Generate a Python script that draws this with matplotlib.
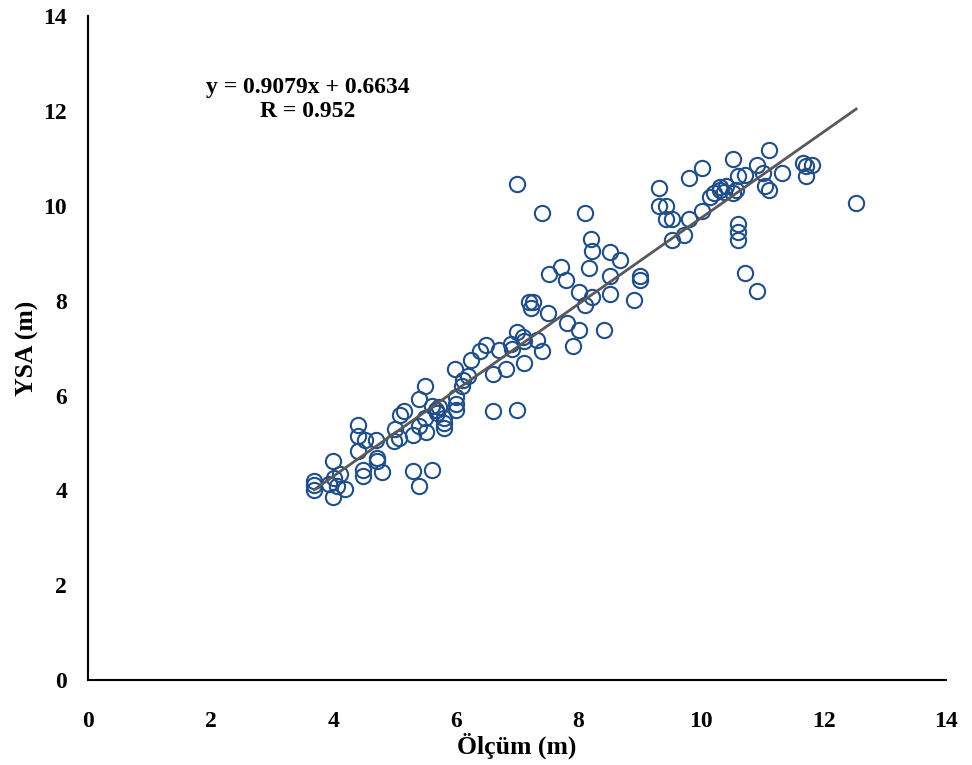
import numpy as np
import matplotlib
matplotlib.use("Agg")
import matplotlib.pyplot as plt

olcum = [3.69, 3.69, 3.69, 3.93, 4.00, 4.00, 4.01, 4.11, 4.19, 4.06,
         4.40, 4.40, 4.40, 4.49, 4.49, 4.52, 4.70, 4.71, 4.72, 4.80,
         4.99, 5.01, 5.09, 5.15, 5.07, 5.30, 5.30, 5.40, 5.40, 5.40,
         5.50, 5.50, 5.51, 5.61, 5.61, 5.68, 5.72, 5.70, 5.81, 5.81,
         5.81, 5.99, 6.00, 6.00, 6.01, 6.10, 6.12, 6.20, 6.25, 6.39,
         6.50, 6.60, 6.60, 6.70, 6.82, 6.90, 6.92, 7.00, 7.00, 7.00,
         7.10, 7.11, 7.12, 7.19, 7.23, 7.26, 7.33, 7.41, 7.41, 7.50,
         7.52, 7.72, 7.80, 7.82, 7.91, 8.01, 8.01, 8.11, 8.11, 8.17,
         8.21, 8.22, 8.22, 8.42, 8.52, 8.52, 8.52, 8.68, 8.91, 9.00,
         9.00, 9.31, 9.31, 9.43, 9.43, 9.53, 9.53, 9.72, 9.80, 9.80,
         10.01, 10.01, 10.15, 10.21, 10.31, 10.31, 10.38, 10.41, 10.52, 10.52,
         10.57, 10.60, 10.60, 10.60, 10.60, 10.72, 10.72, 10.91, 10.91, 11.01,
         11.04, 11.11, 11.11, 11.32, 11.66, 11.71, 11.81, 11.71, 12.53]
ysa = [4.20, 4.00, 4.12, 4.13, 4.62, 3.86, 4.26, 4.34, 4.03, 4.10,
       5.38, 5.14, 4.83, 4.30, 4.43, 5.06, 5.06, 4.68, 4.62, 4.39,
       5.04, 5.29, 5.59, 5.67, 5.10, 5.17, 4.41, 4.09, 5.36, 5.92,
       6.20, 5.52, 5.23, 4.43, 5.78, 5.70, 5.75, 5.64, 5.42, 5.31,
       5.52, 6.56, 5.97, 5.69, 5.82, 6.20, 6.33, 6.41, 6.75, 6.94,
       7.06, 6.45, 5.67, 6.96, 6.56, 7.08, 6.98, 5.69, 7.34, 10.46,
       7.23, 6.68, 7.15, 7.97, 7.84, 7.97, 7.17, 6.94, 9.85, 7.74,
       8.56, 8.71, 8.43, 7.53, 7.04, 7.38, 8.18, 9.85, 7.91, 8.69,
       9.30, 9.05, 8.08, 7.38, 9.02, 8.52, 8.14, 8.86, 8.01, 8.52,
       8.43, 10.37, 9.99, 9.72, 9.99, 9.72, 9.28, 9.38, 9.72, 10.58,
       9.89, 10.79, 10.18, 10.27, 10.33, 10.39, 10.29, 10.42, 10.98, 10.27,
       10.33, 10.63, 9.61, 9.45, 9.28, 10.65, 8.58, 8.20, 10.86, 10.69,
       10.42, 11.17, 10.33, 10.69, 10.90, 10.63, 10.86, 10.84, 10.06]

slope = 0.9079
intercept = 0.6634
eq_text = "y = 0.9079x + 0.6634\nR = 0.952"

plt.rcParams['font.family'] = ['Liberation Serif', 'DejaVu Serif']
plt.rcParams['font.weight'] = 'bold'

fig = plt.figure(figsize=(9.72, 7.65), dpi=100)
ax = fig.add_axes([0.0905, 0.111, 0.883, 0.868])

ax.plot(olcum, ysa, 'o', markersize=11, markerfacecolor='none',
        markeredgecolor='#1F4E89', markeredgewidth=1.5, zorder=2)

xl = np.array([min(olcum), max(olcum)])
ax.plot(xl, slope * xl + intercept, color='#595959', linewidth=2, zorder=3)

ax.text(3.58, 12.72, eq_text, ha='center', va='top', fontsize=17,
        fontweight='bold', linespacing=1.22)

ax.set_xlim(0, 14)
ax.set_ylim(0, 14)
ax.set_xticks(range(0, 15, 2))
ax.set_yticks(range(0, 15, 2))
ax.tick_params(length=0, labelsize=17)
ax.tick_params(axis='x', pad=22)
ax.tick_params(axis='y', pad=15)
for lab in ax.get_xticklabels() + ax.get_yticklabels():
    lab.set_fontweight('bold')
ax.spines['top'].set_visible(False)
ax.spines['right'].set_visible(False)
ax.spines['left'].set_linewidth(1.5)
ax.spines['bottom'].set_linewidth(1.5)

ax.set_xlabel('Ölçüm (m)', fontsize=18.5, fontweight='bold', labelpad=1)
ax.set_ylabel('YSA (m)', fontsize=18.5, fontweight='bold', labelpad=3)

fig.savefig('out.png', dpi=100)
